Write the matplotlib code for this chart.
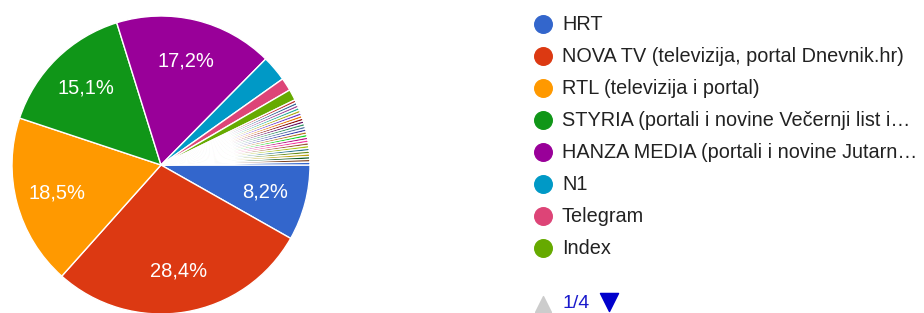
import matplotlib
matplotlib.use("Agg")
import matplotlib.pyplot as plt

plt.rcParams['font.family'] = ['Liberation Sans', 'DejaVu Sans']

# labelled slices (page 1 of the legend)
names = ['HRT', 'NOVA TV (televizija, portal Dnevnik.hr)', 'RTL (televizija i portal)',
         'STYRIA (portali i novine Večernji list i…', 'HANZA MEDIA (portali i novine Jutarn…',
         'N1', 'Telegram', 'Index']
shares = [8.2, 28.4, 18.5, 15.1, 17.2, 2.8, 1.4, 1.2]
# the many thin slices after Index (legend pages 2-4)
small_shares = [0.3] * 24

colors = ['#3366cc', '#dc3912', '#ff9900', '#109618', '#990099', '#0099c6', '#dd4477',
          '#66aa00', '#b82e2e', '#316395', '#994499', '#22aa99', '#aaaa11', '#6633cc',
          '#e67300', '#8b0707', '#651067', '#329262', '#5574a6', '#3b3eac', '#b77322',
          '#16d620', '#b91383', '#f4359e', '#9c5935', '#a9c413', '#2a778d', '#668d1c',
          '#bea413', '#0c5922', '#743411', '#3366cc']

values = shares + small_shares
W, H = 924, 313
fig = plt.figure(figsize=(W / 100, H / 100), dpi=100)

cx, cy, r = 161, 165, 149
ax = fig.add_axes([(cx - r) / W, (H - cy - r) / H, 2 * r / W, 2 * r / H])


def fmt(p):
    return ('%.1f%%' % p).replace('.', ',') if p > 5 else ''


wedges, texts, autotexts = ax.pie(values, colors=colors[:len(values)], startangle=0,
                                  counterclock=False, autopct=fmt, pctdistance=0.72,
                                  wedgeprops=dict(edgecolor='white', linewidth=1),
                                  textprops=dict(color='white', fontsize=14.5))
ax.set_xlim(-1, 1)
ax.set_ylim(-1, 1)
ax.set_aspect('equal')

# legend drawn in pixel space
lg = fig.add_axes([0, 0, 1, 1])
lg.set_xlim(0, W)
lg.set_ylim(H, 0)
lg.axis('off')
lg.patch.set_alpha(0)
for i, name in enumerate(names):
    y = 24 + 32 * i
    lg.scatter(543, y, s=160, color=colors[i], zorder=3)
    lg.text(562, y + 1, name, va='center', ha='left', fontsize=14.3, color='#222222')

lg.scatter(543, 304, marker='^', s=130, color='#cccccc')
lg.text(562, 304, '1/4', va='center', ha='left', fontsize=14, color='#1a1acc')
lg.scatter(609, 302, marker='v', s=170, color='#0000cc')

fig.savefig('out.png', dpi=100)
